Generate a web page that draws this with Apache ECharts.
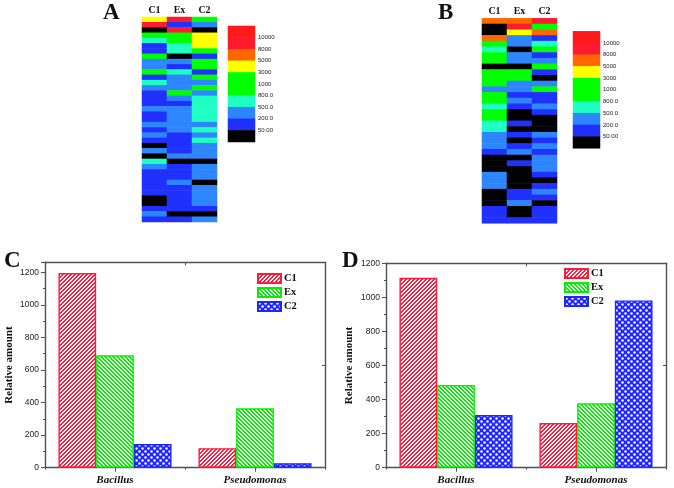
<!DOCTYPE html>
<html><head><meta charset="utf-8">
<style>html,body{margin:0;padding:0;background:#fff}#c{width:674px;height:488px}</style>
<script src="https://cdn.jsdelivr.net/npm/echarts@6/dist/echarts.min.js"></script>
</head><body><div id="c"></div>
<script>
const samples = ['C1','Ex','C2'];
const genera = ['Bacillus','Pseudomonas'];
const legendLabels = ['','10000','8000','5000','3000','1000','800.0','500.0','200.0','50.00',''];
const legendValues = [12000,9000,6500,4000,1500,1200,650,350,120,30];

const heatA_C1 = [4000,9000,30,1500,650,120,120,1500,350,350,1500,120,650,350,120,120,120,350,120,120,350,120,350,120,30,350,30,650,350,120,120,120,120,120,30,30,120,350,120];
const heatA_Ex = [9000,120,9000,1500,1500,650,650,30,350,120,650,350,350,350,1500,350,120,350,350,350,350,350,120,120,120,120,350,30,120,120,120,350,120,120,120,120,120,30,120];
const heatA_C2 = [1500,350,30,4000,4000,4000,1500,120,1500,1500,120,1500,350,1500,350,650,650,650,650,650,350,650,350,650,350,350,350,30,350,350,350,30,350,350,350,350,120,30,350];

const heatB_C1 = [6500,30,30,6500,1500,650,1500,1500,30,1500,1500,1500,350,1500,1500,650,1500,1500,650,650,350,350,350,120,30,30,30,350,350,350,30,30,30,120,120,120];
const heatB_Ex = [6500,9000,4000,350,350,30,350,350,30,1500,1500,350,350,120,350,120,30,30,120,30,120,30,120,350,30,120,30,30,30,30,120,120,350,30,30,120];
const heatB_C2 = [9000,1500,6500,120,650,1500,120,350,1500,120,30,350,1500,120,120,350,120,30,30,30,350,120,350,120,350,350,350,120,30,120,350,120,30,120,120,120];

const barsC_C1 = [1195,120];
const barsC_Ex = [690,365];
const barsC_C2 = [145,28];
const barsD_C1 = [1115,262];
const barsD_Ex = [485,378];
const barsD_C2 = [310,982];

const RED='#ff1a3c', GREEN='#00f000', BLUE='#2026ff', AXIS='#4c5058';
const SERIF='"Liberation Serif","DejaVu Serif",serif', SANS='"Liberation Sans",Arial,sans-serif';

function stripes(color, dir){
  const n=4, c=document.createElement('canvas'); c.width=c.height=n;
  const g=c.getContext('2d'); g.fillStyle='#fff'; g.fillRect(0,0,n,n); g.fillStyle=color;
  for(let y=0;y<n;y++)for(let x=0;x<n;x++){
    const k=((dir>0? x+y : x-y)%n+n)%n;
    if(k<2) g.fillRect(x,y,1,1);
  }
  return {image:c,repeat:'repeat'};
}
function dots(color){
  const n=6, c=document.createElement('canvas'); c.width=c.height=n;
  const g=c.getContext('2d'); g.fillStyle=color; g.fillRect(0,0,n,n); g.fillStyle='#fff';
  [[1.5,1.5],[4.5,4.5]].forEach(p=>{g.beginPath();g.arc(p[0],p[1],1.25,0,7);g.fill();});
  return {image:c,repeat:'repeat'};
}
const FILL=[stripes(RED,1),stripes(GREEN,-1),dots(BLUE)], EDGE=[RED,GREEN,BLUE];

const grids=[
 {left:142,top:17,width:75,height:205},
 {left:228,top:26,width:27,height:116},
 {left:482,top:18.3,width:75,height:205},
 {left:573,top:31.3,width:27,height:117},
 {left:45,top:262.3,width:280,height:205.4},
 {left:386,top:263.3,width:280,height:204.4}
];
const hid={show:false};
const xAxis=[], yAxis=[], series=[];
function heat(gi,cols){
  const rows=cols[0].map((_,i)=>String(i));
  const xi=xAxis.length, yi=yAxis.length;
  xAxis.push({gridIndex:gi,type:'category',position:'top',data:samples,axisLine:hid,axisTick:hid,splitLine:hid,
    axisLabel:{fontFamily:SERIF,fontWeight:'bold',fontSize:10,color:'#111',margin:2}});
  yAxis.push({gridIndex:gi,type:'category',inverse:true,data:rows,show:false});
  const data=[]; cols.forEach((c,x)=>c.forEach((v,y)=>data.push([x,y,v])));
  series.push({type:'heatmap',xAxisIndex:xi,yAxisIndex:yi,data,progressive:0});
}
function scale(gi){
  const xi=xAxis.length, yi=yAxis.length;
  xAxis.push({gridIndex:gi,type:'category',data:['s'],show:false});
  yAxis.push({gridIndex:gi,type:'category',inverse:true,data:legendValues.map(String),show:false});
  yAxis.push({gridIndex:gi,type:'value',inverse:true,position:'right',min:0,max:10,interval:1,
    axisLine:hid,axisTick:hid,splitLine:hid,
    axisLabel:{show:true,showMinLabel:false,showMaxLabel:false,fontFamily:SANS,fontSize:6,color:'#222',margin:3,
      formatter:v=>legendLabels[Math.round(v)]}});
  series.push({type:'heatmap',xAxisIndex:xi,yAxisIndex:yi,data:legendValues.map((v,i)=>[0,i,v]),progressive:0});
}
function bars(gi,max,vals,nameGap){
  const xi=xAxis.length, yi=yAxis.length;
  const line={show:true,onZero:false,lineStyle:{color:AXIS,width:1.4}};
  xAxis.push({gridIndex:gi,type:'category',data:genera,position:'bottom',axisLine:line,
    axisTick:{show:true,alignWithLabel:true,length:4,lineStyle:{color:AXIS}},
    axisLabel:{fontFamily:SERIF,fontStyle:'italic',fontWeight:'bold',fontSize:11,color:'#111',margin:7},splitLine:hid});
  xAxis.push({gridIndex:gi,type:'category',data:genera,position:'top',axisLine:line,
    axisTick:{show:true,inside:true,length:3,lineStyle:{color:AXIS}},axisLabel:hid,splitLine:hid});
  xAxis.push({gridIndex:gi,type:'category',data:genera,position:'bottom',axisLine:{show:false},
    axisTick:{show:true,length:2,lineStyle:{color:AXIS}},axisLabel:hid,splitLine:hid});
  yAxis.push({gridIndex:gi,type:'value',min:0,max:max,interval:200,position:'left',
    name:'Relative amount',nameLocation:'middle',nameGap:nameGap,
    nameTextStyle:{fontFamily:SERIF,fontWeight:'bold',fontSize:11,color:'#111'},
    axisLine:line,axisTick:{show:true,length:4,lineStyle:{color:AXIS}},
    minorTick:{show:true,splitNumber:2,length:2,lineStyle:{color:AXIS}},
    axisLabel:{fontFamily:SANS,fontSize:8.5,color:'#222',margin:6,showMaxLabel:true,formatter:v=>v%200===0?String(v):''},splitLine:hid});
  yAxis.push({gridIndex:gi,type:'value',min:0,max:max,interval:max/2,position:'right',axisLine:line,
    axisTick:{show:true,inside:true,length:3,lineStyle:{color:AXIS}},axisLabel:hid,splitLine:hid});
  vals.forEach((d,i)=>series.push({type:'bar',name:samples[i],xAxisIndex:xi,yAxisIndex:yi,data:d,
    barWidth:37.7,barGap:'0%',itemStyle:{color:FILL[i],borderColor:EDGE[i],borderWidth:1.4}}));
}
heat(0,[heatA_C1,heatA_Ex,heatA_C2]);
scale(1);
heat(2,[heatB_C1,heatB_Ex,heatB_C2]);
scale(3);
const heatIdx=[0,1,2,3];
bars(4,1261,[barsC_C1,barsC_Ex,barsC_C2],30);
bars(5,1200,[barsD_C1,barsD_Ex,barsD_C2],31);

function letter(t,l,tp){return {text:t,left:l,top:tp,padding:0,textStyle:{fontFamily:SERIF,fontWeight:'bold',fontSize:23,color:'#111'}};}
function leg(l,t){return {orient:'vertical',left:l,top:t,itemWidth:23,itemHeight:9,itemGap:3,padding:0,selectedMode:false,data:samples,
  icon:'rect',textStyle:{fontFamily:SERIF,fontWeight:'bold',fontSize:10.5,color:'#111',padding:[0,0,0,-2]}};}

echarts.init(document.getElementById('c'),null,{renderer:'canvas'}).setOption({
  animation:false,backgroundColor:'#fff',
  title:[letter('A',103,2),letter('B',438,2),letter('C',4,250),letter('D',342,250)],
  grid:grids,xAxis,yAxis,series,
  legend:[leg(257,273),leg(564,268)],
  visualMap:[{show:false,type:'piecewise',seriesIndex:heatIdx,pieces:[
    {min:10000,color:'#ff1a1a'},{min:8000,max:10000,color:'#ff1a30'},{min:5000,max:8000,color:'#ff6600'},
    {min:3000,max:5000,color:'#ffff00'},{min:800,max:3000,color:'#00ff00'},{min:500,max:800,color:'#1effc4'},
    {min:200,max:500,color:'#2e86ff'},{min:50,max:200,color:'#2030ff'},{max:50,color:'#000000'}]}]
});
</script></body></html>
